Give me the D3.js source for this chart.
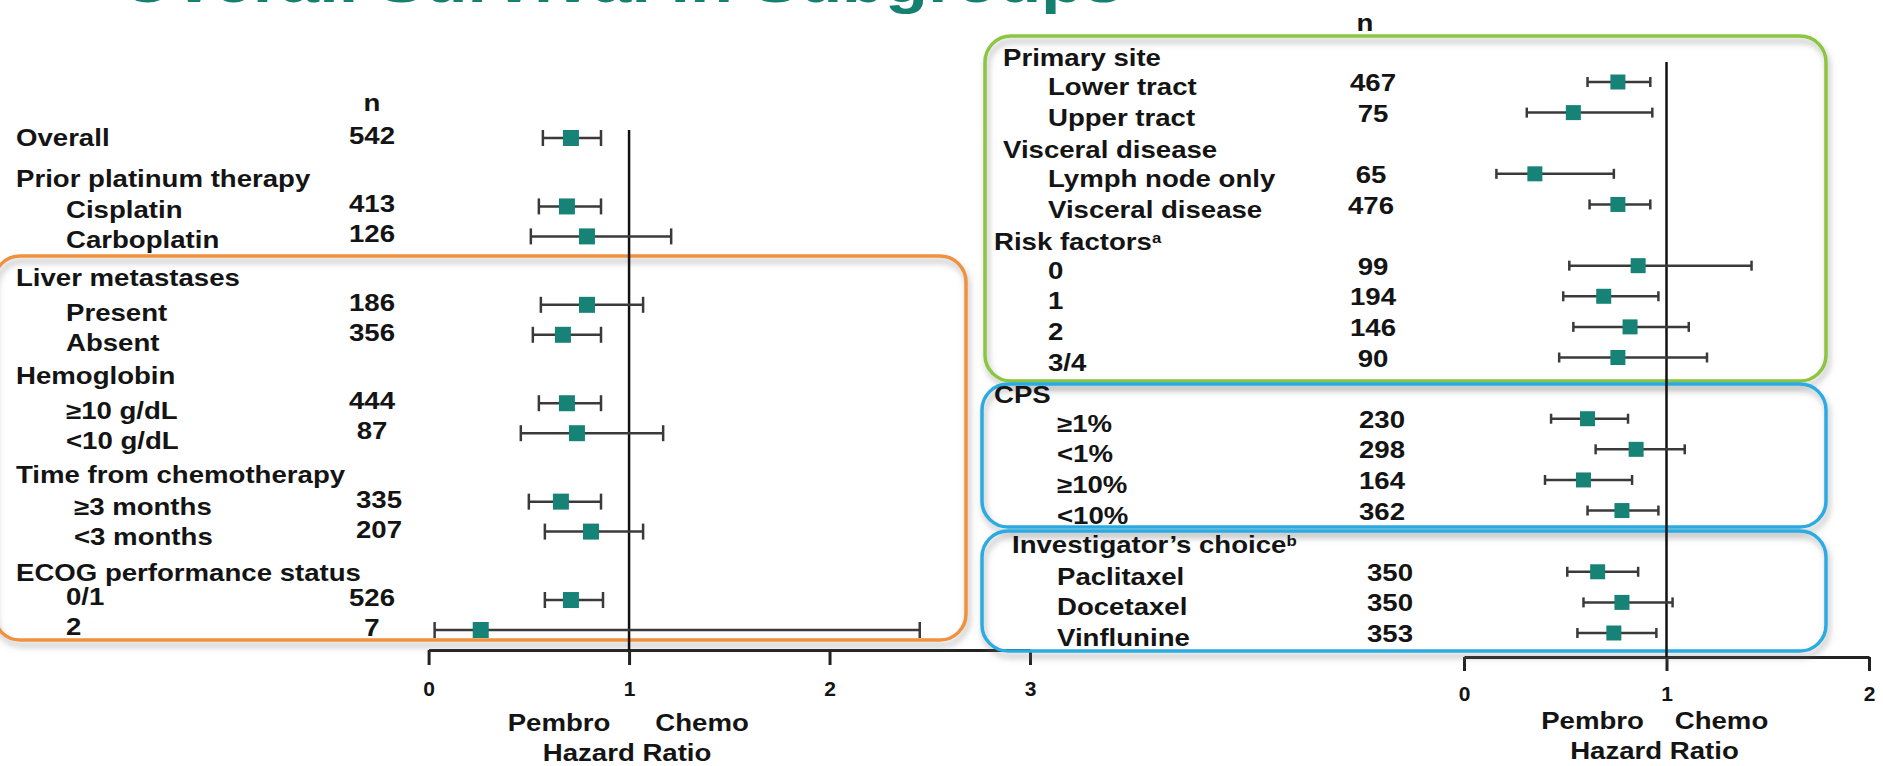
<!DOCTYPE html>
<html>
<head>
<meta charset="utf-8">
<script src="https://cdn.jsdelivr.net/npm/d3@7"></script>
<style>
  body { margin: 0; background: #fff; }
  svg text { font-family: "Liberation Sans", Arial, sans-serif; font-weight: bold; fill: #141414; }
</style>
</head>
<body>
<svg id="canvas"></svg>
<script>
// left panel data
var leftHeaders = ["Overall", "Prior platinum therapy", "Liver metastases", "Hemoglobin", "Time from chemotherapy", "ECOG performance status"];
var leftGroup = [0, 1, 1, 2, 2, 3, 3, 4, 4, 5, 5];
var leftLabels = ["Overall", "Cisplatin", "Carboplatin", "Present", "Absent", "≥10 g/dL", "<10 g/dL", "≥3 months", "<3 months", "0/1", "2"];
var leftN = [542, 413, 126, 186, 356, 444, 87, 335, 207, 526, 7];
var leftHR = [0.71, 0.69, 0.79, 0.79, 0.67, 0.69, 0.74, 0.66, 0.81, 0.71, 0.26];
var leftLo = [0.57, 0.55, 0.51, 0.56, 0.52, 0.55, 0.46, 0.50, 0.58, 0.58, 0.03];
var leftHi = [0.86, 0.86, 1.21, 1.07, 0.86, 0.86, 1.17, 0.86, 1.07, 0.87, 2.45];
var leftTicks = [0, 1, 2, 3];

// right panel data
var rightHeaders = ["Primary site", "Visceral disease", "Risk factors", "CPS", "Investigator’s choice"];
var rightSup = ["", "", "a", "", "b"];
var rightGroup = [0, 0, 1, 1, 2, 2, 2, 2, 3, 3, 3, 3, 4, 4, 4];
var rightLabels = ["Lower tract", "Upper tract", "Lymph node only", "Visceral disease", "0", "1", "2", "3/4", "≥1%", "<1%", "≥10%", "<10%", "Paclitaxel", "Docetaxel", "Vinflunine"];
var rightN = [467, 75, 65, 476, 99, 194, 146, 90, 230, 298, 164, 362, 350, 350, 353];
var rightHR = [0.76, 0.54, 0.35, 0.76, 0.86, 0.69, 0.82, 0.76, 0.61, 0.85, 0.59, 0.78, 0.66, 0.78, 0.74];
var rightLo = [0.61, 0.31, 0.16, 0.62, 0.52, 0.49, 0.54, 0.47, 0.43, 0.65, 0.40, 0.61, 0.51, 0.59, 0.56];
var rightHi = [0.92, 0.93, 0.74, 0.92, 1.42, 0.96, 1.11, 1.20, 0.81, 1.09, 0.83, 0.96, 0.86, 1.03, 0.95];
var rightTicks = [0, 1, 2];

var width = 1883, height = 766;
var stretch = 1.2;
var teal = "#178377";

var svg = d3.select("#canvas").attr("width", width).attr("height", height);

var defs = svg.append("defs");
var f = defs.append("filter").attr("id", "shadow").attr("x", "-5%").attr("y", "-10%").attr("width", "110%").attr("height", "125%");
f.append("feDropShadow").attr("dx", 2).attr("dy", 5).attr("stdDeviation", 3)
  .attr("flood-color", "#777").attr("flood-opacity", 0.55);

function addText(g, str, x, y, size, anchor) {
  return g.append("text")
    .attr("transform", "translate(" + x + "," + y + ") scale(" + stretch + ",1)")
    .attr("dy", "0.35em")
    .style("font-size", (size || 23) + "px")
    .style("text-anchor", anchor || "start")
    .text(str);
}

// title (cut off at the top of the slide)
svg.append("text")
  .attr("x", 120).attr("y", 2)
  .attr("textLength", 1003).attr("lengthAdjust", "spacingAndGlyphs")
  .style("font-size", "60px").style("fill", "#15806f")
  .text("Overall Survival in Subgroups");

// boxes
var boxes = [
  {x: -6, y: 256, w: 972, h: 384, c: "#f0913f"},
  {x: 985, y: 36, w: 841, h: 345, c: "#8cc63f"},
  {x: 982, y: 384, w: 844, h: 143, c: "#29abe2"},
  {x: 982, y: 531, w: 844, h: 120, c: "#29abe2"}
];

// scales
var xL = d3.scaleLinear().domain([0, 3]).range([428.6, 1030]);
var xR = d3.scaleLinear().domain([0, 2]).range([1464, 1869]);
var leftPos = leftGroup.map(function(g, i) { return i + g * 1.283; });
var rightPos = rightGroup.map(function(g, i) { return i + g; });
var yL = d3.scaleLinear().domain([0, d3.max(leftPos)]).range([138, 630]);
var yR = d3.scaleLinear().domain([0, d3.max(rightPos)]).range([82, 633]);

// axes (drawn before the boxes so the blue border sits on the left one)
var axL = svg.append("g").attr("transform", "translate(0,650)")
  .call(d3.axisBottom(xL).tickValues(leftTicks).tickFormat(d3.format("d"))
    .tickSize(15).tickSizeOuter(0).tickPadding(16));
var axR = svg.append("g").attr("transform", "translate(0,657)")
  .call(d3.axisBottom(xR).tickValues(rightTicks).tickFormat(d3.format("d"))
    .tickSize(14).tickSizeOuter(0).tickPadding(15));
[axL, axR].forEach(function(ax) {
  ax.select(".domain").attr("stroke", "#222").attr("stroke-width", 3);
  ax.selectAll(".tick line").attr("stroke", "#222").attr("stroke-width", 3);
  ax.selectAll(".tick text").style("font-size", "21px").attr("fill", "#222");
});

svg.selectAll(".box").data(boxes).enter().append("rect")
  .attr("class", "box")
  .attr("x", function(d) { return d.x; }).attr("y", function(d) { return d.y; })
  .attr("width", function(d) { return d.w; }).attr("height", function(d) { return d.h; })
  .attr("rx", 26).attr("ry", 26)
  .attr("fill", "none").attr("stroke", function(d) { return d.c; }).attr("stroke-width", 3.5)
  .attr("filter", "url(#shadow)");

// reference lines at HR = 1
svg.append("line").attr("x1", xL(1)).attr("x2", xL(1)).attr("y1", 130).attr("y2", 650)
  .attr("stroke", "#111").attr("stroke-width", 2.5);
svg.append("line").attr("x1", xR(1)).attr("x2", xR(1)).attr("y1", 62).attr("y2", 657)
  .attr("stroke", "#111").attr("stroke-width", 2.5);

function drawForest(hr, lo, hi, pos, x, y, cap, size) {
  var g = svg.append("g");
  var rows = hr.map(function(d, i) { return {hr: d, lo: lo[i], hi: hi[i], y: y(pos[i])}; });
  g.selectAll(".ci").data(rows).enter().append("line")
    .attr("x1", function(d) { return x(d.lo); }).attr("x2", function(d) { return x(d.hi); })
    .attr("y1", function(d) { return d.y; }).attr("y2", function(d) { return d.y; })
    .attr("stroke", "#3a3a3a").attr("stroke-width", 2.5);
  ["lo", "hi"].forEach(function(k) {
    g.selectAll(".cap" + k).data(rows).enter().append("line")
      .attr("x1", function(d) { return x(d[k]); }).attr("x2", function(d) { return x(d[k]); })
      .attr("y1", function(d) { return d.y - cap / 2; }).attr("y2", function(d) { return d.y + cap / 2; })
      .attr("stroke", "#3a3a3a").attr("stroke-width", 2.5);
  });
  g.selectAll(".pt").data(rows).enter().append("rect")
    .attr("x", function(d) { return x(d.hr) - size / 2; })
    .attr("y", function(d) { return d.y - size / 2; })
    .attr("width", size).attr("height", size)
    .attr("fill", teal);
}

drawForest(leftHR, leftLo, leftHi, leftPos, xL, yL, 16, 16);
drawForest(rightHR, rightLo, rightHi, rightPos, xR, yR, 10, 15);

// left texts
var tl = svg.append("g");
addText(tl, "n", 372, 103, 23, "middle");
var leftNx = [372, 372, 372, 372, 379, 372];
var leftDy = [0, 4, 8, 8, 5, -3];
leftLabels.forEach(function(lab, i) {
  var g = leftGroup[i];
  var y = yL(leftPos[i]);
  addText(tl, lab, g === 0 ? 16 : (g === 4 ? 74 : 66), y + leftDy[g]);
  addText(tl, leftN[i], leftNx[g], y - 2, 23, "middle");
});
leftHeaders.forEach(function(h, g) {
  if (g === 0) return;
  var first = leftGroup.indexOf(g);
  addText(tl, h, 16, yL(leftPos[first]) - 27);
});
addText(tl, "Pembro", xL(1) - 70, 723, 23, "middle");
addText(tl, "Chemo", xL(1) + 73, 723, 23, "middle");
addText(tl, "Hazard Ratio", xL(1) - 2, 753, 23, "middle");

// right texts
var tr = svg.append("g");
addText(tr, "n", 1365, 23, 23, "middle");
var headX = [1003, 1003, 994, 994, 1012];
var itemX = [1048, 1048, 1048, 1057, 1057];
var rightNx = [1373, 1371, 1373, 1382, 1390];
rightLabels.forEach(function(lab, i) {
  var g = rightGroup[i];
  var y = yR(rightPos[i]);
  addText(tr, lab, itemX[g], y + 5);
  addText(tr, rightN[i], rightNx[g], y + 1, 23, "middle");
});
rightHeaders.forEach(function(h, g) {
  var first = rightGroup.indexOf(g);
  var t = addText(tr, h, headX[g], yR(rightPos[first]) - (g === 4 ? 27 : 24));
  if (rightSup[g]) {
    t.append("tspan").attr("dy", "-0.5em").style("font-size", "14px").text(rightSup[g]);
  }
});
addText(tr, "Pembro", xR(1) - 74, 721, 23, "middle");
addText(tr, "Chemo", xR(1) + 55, 721, 23, "middle");
addText(tr, "Hazard Ratio", xR(1) - 12, 751, 23, "middle");
</script>
</body>
</html>
